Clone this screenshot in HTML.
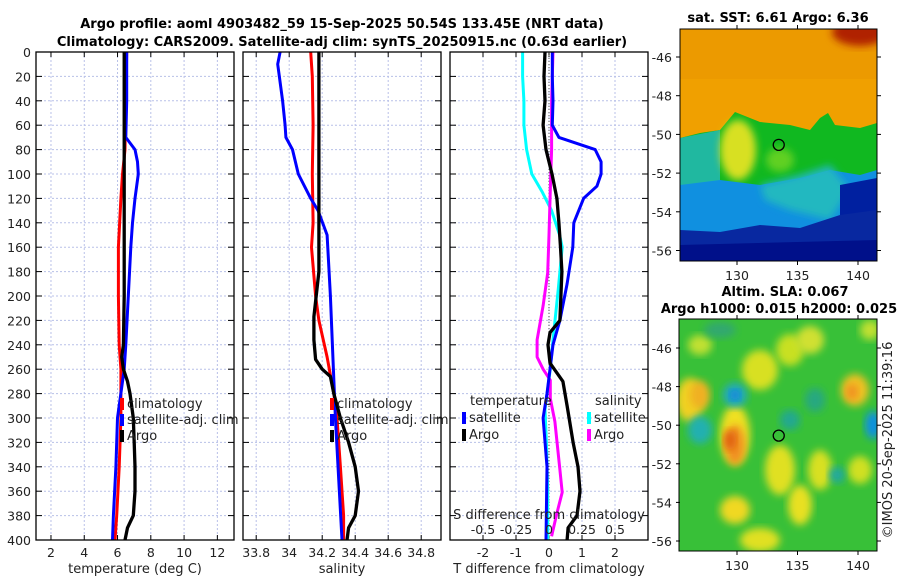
<!DOCTYPE html>
<html><head><meta charset="utf-8"><style>
html,body{margin:0;padding:0;background:#fff;}
svg{display:block;font-family:"DejaVu Sans","Liberation Sans",sans-serif;}
</style></head><body>
<svg id="fig" width="900" height="580" viewBox="0 0 900 580" xmlns="http://www.w3.org/2000/svg">
<defs>
<filter id="blur4" x="-20%" y="-20%" width="140%" height="140%"><feGaussianBlur stdDeviation="4"/></filter>
<filter id="blur7" x="-30%" y="-30%" width="160%" height="160%"><feGaussianBlur stdDeviation="7"/></filter>
<clipPath id="clipTop"><rect x="680" y="29" width="197" height="232"/></clipPath>
<clipPath id="clipBot"><rect x="679" y="319" width="198" height="232"/></clipPath>
</defs>
<text x="342" y="28" font-size="13" font-weight="bold" text-anchor="middle">Argo profile: aoml 4903482_59 15-Sep-2025 50.54S 133.45E (NRT data)</text>
<text x="342" y="46" font-size="13" font-weight="bold" text-anchor="middle">Climatology: CARS2009. Satellite-adj clim: synTS_20250915.nc (0.63d earlier)</text>
<g id="plots"></g>
<g id="maps"></g>
</svg>
<script>
// ---------- data ----------
const depthTicks = [0,20,40,60,80,100,120,140,160,180,200,220,240,260,280,300,320,340,360,380,400];
const tempTicks = [2,4,6,8,10,12];
const salTicks = [33.8,34,34.2,34.4,34.6,34.8];
const diffTicks = [-2,-1,0,1,2];
const sDiffTickLabels = ["-0.5","-0.25","0","0.25","0.5"];
const sDiffTickValues = [-0.5,-0.25,0,0.25,0.5];

const tClimDepth = [0,40,80,100,120,160,200,240,260,300,340,380,400];
const tClim      = [6.55,6.5,6.45,6.3,6.2,6.05,6.05,6.1,6.2,6.2,6.1,5.95,5.85];
const tSatDepth = [0,40,70,80,90,100,120,140,160,200,240,260,300,340,380,400];
const tSat      = [6.55,6.55,6.5,7.05,7.2,7.25,7.05,6.9,6.8,6.65,6.5,6.4,6.0,5.9,5.75,5.7];
const tArgoDepth = [0,40,80,120,160,200,240,250,260,270,280,300,320,340,360,380,390,400];
const tArgo      = [6.4,6.4,6.4,6.4,6.4,6.4,6.35,6.25,6.35,6.6,6.75,6.95,7.0,7.05,7.05,6.95,6.6,6.45];

const sClimDepth = [0,20,60,100,140,160,200,220,250,280,300,340,380,400];
const sClim      = [34.13,34.14,34.145,34.14,34.145,34.135,34.16,34.18,34.23,34.27,34.29,34.31,34.33,34.33];
const sSatDepth = [0,10,40,60,70,80,100,120,130,150,200,300,400];
const sSat      = [33.945,33.93,33.96,33.975,33.98,34.02,34.055,34.13,34.175,34.23,34.25,34.28,34.32];
const sArgoDepth = [0,60,120,180,217,236,252,260,266,280,300,320,340,360,380,390,400];
const sArgo      = [34.18,34.18,34.18,34.18,34.15,34.15,34.16,34.2,34.25,34.27,34.31,34.36,34.4,34.42,34.4,34.36,34.35];

const dTSatDepth = [0,20,40,60,70,80,90,100,110,120,140,160,190,220,240,260,280,300,340,400];
const dTSat      = [0.1,0.1,0.12,0.1,0.3,1.4,1.58,1.58,1.45,1.05,0.75,0.72,0.55,0.33,0.12,0.03,-0.06,-0.18,-0.06,-0.09];
const dTArgoDepth = [0,20,40,60,80,100,120,140,160,180,200,220,230,240,255,270,290,320,340,360,380,390,400];
const dTArgo      = [-0.12,-0.15,-0.12,-0.18,-0.09,0.09,0.24,0.3,0.35,0.39,0.36,0.33,0.03,-0.03,0.03,0.42,0.55,0.73,0.88,0.94,0.85,0.58,0.55];
const dSSatDepth = [0,20,40,60,80,100,115,130,150,160,195,236,260,293,320,360,400];
const dSSat      = [-0.2,-0.2,-0.19,-0.19,-0.17,-0.13,-0.05,0.02,0.08,0.1,0.07,0.03,0.01,-0.03,-0.02,-0.01,-0.01];
const dSArgoDepth = [0,40,80,113,150,181,208,236,250,260,269,284,303,340,361,378,397];
const dSArgo      = [0.03,0.02,0.02,0.01,0.0,-0.01,-0.045,-0.09,-0.09,-0.045,0.01,0.01,0.045,0.08,0.1,0.06,0.02];

// ---------- drawing ----------
const NS = "http://www.w3.org/2000/svg";
const plots = document.getElementById('plots');
const Y0 = 52, Y1 = 540, DMAX = 400;
function yScale(d){ return Y0 + d*(Y1-Y0)/DMAX; }
function mk(tag, attrs, parent){
  const e = document.createElementNS(NS, tag);
  for (const k in attrs) e.setAttribute(k, attrs[k]);
  (parent||plots).appendChild(e);
  return e;
}
function makePanel(name, x0, x1, vmin, vmax){
  const g = mk('g', {});
  
  
  return {g, x0, x1, xs: v => x0 + (v-vmin)*(x1-x0)/(vmax-vmin)};
}
function grid(p, ticks, labels, xlabel){
  const g = p.g;
  ticks.forEach((t,i)=>{
    const x = p.xs(t);
    const gl = mk('line',{x1:x,x2:x,y1:Y0,y2:Y1,stroke:'#b8c0e8','stroke-width':1,'stroke-dasharray':'2,2'},g);
    
    
    mk('line',{x1:x,x2:x,y1:Y1,y2:Y1-5,stroke:'#000'},g);
    mk('line',{x1:x,x2:x,y1:Y0,y2:Y0+5,stroke:'#000'},g);
    const tl = mk('text',{x:x,y:557,'font-size':12.5,'text-anchor':'middle',fill:'#222'},g);
    tl.textContent = labels[i];
    
    
  });
  depthTicks.forEach(d=>{
    const y = yScale(d);
    if (d>0 && d<400){
      const hl = mk('line',{x1:p.x0,x2:p.x1,y1:y,y2:y,stroke:'#b8c0e8','stroke-width':1,'stroke-dasharray':'2,2'},g);
      
      
    }
    mk('line',{x1:p.x0,x2:p.x0+6,y1:y,y2:y,stroke:'#000'},g);
    mk('line',{x1:p.x1,x2:p.x1-6,y1:y,y2:y,stroke:'#000'},g);
  });
  const xl = mk('text',{x:(p.x0+p.x1)/2,y:573,'font-size':13,'text-anchor':'middle',fill:'#222'},g);
  xl.textContent = xlabel;
  
  
}
function frame(p){
  const r = mk('rect',{x:p.x0,y:Y0,width:p.x1-p.x0,height:Y1-Y0,fill:'none',stroke:'#000','stroke-width':1.3},p.g);
  
  
}
function series(p, depths, vals, color, w, name, scale){
  const pts = depths.map((d,i)=> p.xs(vals[i]*(scale||1)).toFixed(1)+','+yScale(d).toFixed(1)).join(' ');
  const pl = mk('polyline',{points:pts,fill:'none',stroke:color,'stroke-width':w,'stroke-linejoin':'round'},p.g);
  
  
}
function legendItem(p, x, y, color, label, name){
  const r = mk('rect',{x:x,y:y-10,width:4,height:12,fill:color},p.g);
  
  
  const t = mk('text',{x:x+7,y:y,'font-size':13,fill:'#222'},p.g);
  t.textContent = label;
  
  
}

// y tick labels
depthTicks.forEach(d=>{
  const t = mk('text',{x:31,y:yScale(d)+5,'font-size':12.5,'text-anchor':'end',fill:'#222'});
  t.textContent = d;
  
  
});

// Panel 1: temperature
const p1 = makePanel('temperature-panel', 36, 234, 1.1, 13.0);
grid(p1, tempTicks, tempTicks.map(String), 'temperature (deg C)');
series(p1, tClimDepth, tClim, '#f00', 3, 'temperature-climatology-line');
series(p1, tSatDepth, tSat, '#00f', 3, 'temperature-satellite-line');
series(p1, tArgoDepth, tArgo, '#000', 3.3, 'temperature-argo-line');
frame(p1);
legendItem(p1, 120, 408, '#f00', 'climatology', 'legend-climatology');
legendItem(p1, 120, 424, '#00f', 'satellite-adj. clim', 'legend-satellite-adj');
legendItem(p1, 120, 440, '#000', 'Argo', 'legend-argo');

// Panel 2: salinity
const p2 = makePanel('salinity-panel', 243, 441, 33.72, 34.92);
grid(p2, salTicks, ["33.8","34","34.2","34.4","34.6","34.8"], 'salinity');
series(p2, sClimDepth, sClim, '#f00', 3, 'salinity-climatology-line');
series(p2, sSatDepth, sSat, '#00f', 3, 'salinity-satellite-line');
series(p2, sArgoDepth, sArgo, '#000', 3.3, 'salinity-argo-line');
frame(p2);
legendItem(p2, 330, 408, '#f00', 'climatology', 'legend-climatology');
legendItem(p2, 330, 424, '#00f', 'satellite-adj. clim', 'legend-satellite-adj');
legendItem(p2, 330, 440, '#000', 'Argo', 'legend-argo');

// Panel 3: differences
const p3 = makePanel('difference-panel', 450, 648, -3.0, 3.0);
grid(p3, diffTicks, diffTicks.map(String), 'T difference from climatology');
const zl = mk('line',{x1:p3.xs(0),x2:p3.xs(0),y1:Y0,y2:Y1,stroke:'#555','stroke-width':1,'stroke-dasharray':'1,2'},p3.g);


series(p3, dSSatDepth, dSSat, '#0ff', 3, 'salinity-diff-satellite-line', 4);
series(p3, dSArgoDepth, dSArgo, '#f0f', 3, 'salinity-diff-argo-line', 4);
series(p3, dTSatDepth, dTSat, '#00f', 3, 'temperature-diff-satellite-line');
series(p3, dTArgoDepth, dTArgo, '#000', 3.3, 'temperature-diff-argo-line');
frame(p3);
{
  const t1 = mk('text',{x:470,y:405,'font-size':13,fill:'#222'},p3.g); t1.textContent='temperature';
   
  const t2 = mk('text',{x:595,y:405,'font-size':13,fill:'#222'},p3.g); t2.textContent='salinity';
   
  legendItem(p3, 462, 422, '#00f', 'satellite', 'legend-temp-satellite');
  legendItem(p3, 462, 439, '#000', 'Argo', 'legend-temp-argo');
  legendItem(p3, 587, 422, '#0ff', 'satellite', 'legend-sal-satellite');
  legendItem(p3, 587, 439, '#f0f', 'Argo', 'legend-sal-argo');
  const st = mk('text',{x:549,y:519,'font-size':13,'text-anchor':'middle',fill:'#222'},p3.g); st.textContent='S difference from climatology';
   
  sDiffTickValues.forEach((v,i)=>{
    const l = mk('text',{x:p3.xs(v*4),y:534,'font-size':12.5,'text-anchor':'middle',fill:'#222'},p3.g);
    l.textContent = sDiffTickLabels[i];
    
    
  });
}

// ---------- maps ----------
const maps = document.getElementById('maps');
const lonTicks = [130,135,140];
const latTicks = [-46,-48,-50,-52,-54,-56];
function lonX(l){ return 737 + (l-130)*12.1; }
function mapAxes(g, top, bottom, latY){
  latTicks.forEach(l=>{
    const y = latY(l);
    mk('line',{x1:676,x2:680,y1:y,y2:y,stroke:'#000'},g);
    mk('line',{x1:877,x2:881,y1:y,y2:y,stroke:'#000'},g);
    const t = mk('text',{x:672,y:y+5,'font-size':12.5,'text-anchor':'end',fill:'#222'},g);
    t.textContent = String(l);
     
  });
  lonTicks.forEach(l=>{
    const x = lonX(l);
    mk('line',{x1:x,x2:x,y1:bottom,y2:bottom+4,stroke:'#000'},g);
    mk('line',{x1:x,x2:x,y1:top-4,y2:top,stroke:'#000'},g);
    const t = mk('text',{x:x,y:bottom+19,'font-size':12.5,'text-anchor':'middle',fill:'#222'},g);
    t.textContent = String(l);
     
  });
}
// SST map
{
  const g = mk('g',{},maps);
   
  const c = mk('g',{'clip-path':'url(#clipTop)'},g);
  mk('rect',{x:680,y:29,width:197,height:232,fill:'#f0a000'},c);
  mk('rect',{x:680,y:29,width:197,height:50,fill:'#ec9a00'},c);
  mk('ellipse',{cx:860,cy:32,rx:28,ry:14,fill:'#b02000',filter:'url(#blur4)'},c);
  mk('polygon',{points:'680,138 700,133 720,130 735,112 760,122 790,125 810,130 820,118 828,113 835,125 860,128 877,123 877,261 680,261',fill:'#10b820'},c);
  mk('polygon',{points:'680,138 720,130 720,185 680,190',fill:'#20b8a0'},c);
  mk('ellipse',{cx:738,cy:150,rx:18,ry:30,fill:'#d8e020',filter:'url(#blur4)'},c);
  mk('ellipse',{cx:780,cy:160,rx:14,ry:12,fill:'#60d020',filter:'url(#blur4)'},c);
  mk('polygon',{points:'680,185 720,180 760,185 800,178 830,170 860,175 877,170 877,261 680,261',fill:'#1090e0'},c);
  mk('polygon',{points:'760,185 800,175 830,165 850,190 830,220 790,210 765,200',fill:'#20b8c0',filter:'url(#blur4)'},c);
  mk('polygon',{points:'840,185 877,178 877,261 840,261',fill:'#0020a0'},c);
  mk('polygon',{points:'680,230 720,232 760,225 800,228 840,215 877,210 877,261 680,261',fill:'#0828a0'},c);
  mk('polygon',{points:'680,245 877,240 877,261 680,261',fill:'#00108a'},c);
  mk('rect',{x:680,y:29,width:197,height:232,fill:'none',stroke:'#000','stroke-width':1},g);
  mapAxes(g, 29, 261, l => 57 + (-46-l)*19.35);
  const m = mk('circle',{cx:lonX(133.45),cy:57+(-46+50.54)*19.35,r:5.5,fill:'none',stroke:'#000','stroke-width':1.3},g);
   
  const t = mk('text',{x:778,y:22,'font-size':13,'font-weight':'bold','text-anchor':'middle'},g);
  t.textContent = 'sat. SST: 6.61 Argo: 6.36';
   
}
// SLA map
{
  const g = mk('g',{},maps);
   
  const c = mk('g',{'clip-path':'url(#clipBot)'},g);
  mk('rect',{x:679,y:319,width:198,height:232,fill:'#38c038'},c);
  const blobs = [
    [690,400,14,22,'#f0d020'],[700,395,10,14,'#f0b020'],[735,435,15,30,'#f0e020'],[735,445,10,20,'#f09020'],
    [730,440,6,10,'#e06010'],[760,370,18,20,'#d8e020'],[790,350,14,16,'#c8e020'],[810,340,14,14,'#d0e030'],
    [780,470,15,25,'#e0e020'],[820,470,12,20,'#d8e020'],[855,390,14,16,'#f0c020'],[852,392,6,8,'#f09020'],
    [800,505,12,20,'#e8e020'],[735,510,15,14,'#f0d820'],[760,540,20,12,'#e0e020'],[860,470,12,14,'#d0e020'],
    [700,345,12,10,'#c0e030'],[870,330,10,10,'#c0e030']
  ];
  blobs.forEach(b=> mk('ellipse',{cx:b[0],cy:b[1],rx:b[2],ry:b[3],fill:b[4],filter:'url(#blur4)'},c));
  const cool = [[735,395,12,12,'#20a8c0'],[735,395,5,5,'#1080e0'],[700,430,12,14,'#20b0b0'],[790,420,10,10,'#20a890'],
    [815,400,10,12,'#28a880'],[837,475,8,8,'#20a8a0'],[873,425,8,14,'#1090e0'],[720,330,16,8,'#30a870']];
  cool.forEach(b=> mk('ellipse',{cx:b[0],cy:b[1],rx:b[2],ry:b[3],fill:b[4],filter:'url(#blur4)'},c));
  mk('rect',{x:679,y:319,width:198,height:232,fill:'none',stroke:'#000','stroke-width':1},g);
  mapAxes(g, 319, 551, l => 348 + (-46-l)*19.3);
  const m = mk('circle',{cx:lonX(133.45),cy:348+(-46+50.54)*19.3,r:5.5,fill:'none',stroke:'#000','stroke-width':1.3},g);
   
  const t1 = mk('text',{x:785,y:296,'font-size':13,'font-weight':'bold','text-anchor':'middle'},g);
  t1.textContent = 'Altim. SLA: 0.067';
   
  const t2 = mk('text',{x:779,y:313,'font-size':13,'font-weight':'bold','text-anchor':'middle'},g);
  t2.textContent = 'Argo h1000: 0.015 h2000: 0.025';
   
  const cr = mk('text',{x:0,y:0,'font-size':13,'text-anchor':'middle',fill:'#222',transform:'translate(892,440) rotate(-90)'},g);
  cr.textContent = '©IMOS 20-Sep-2025 11:39:16';
   
}
</script>
</body></html>
